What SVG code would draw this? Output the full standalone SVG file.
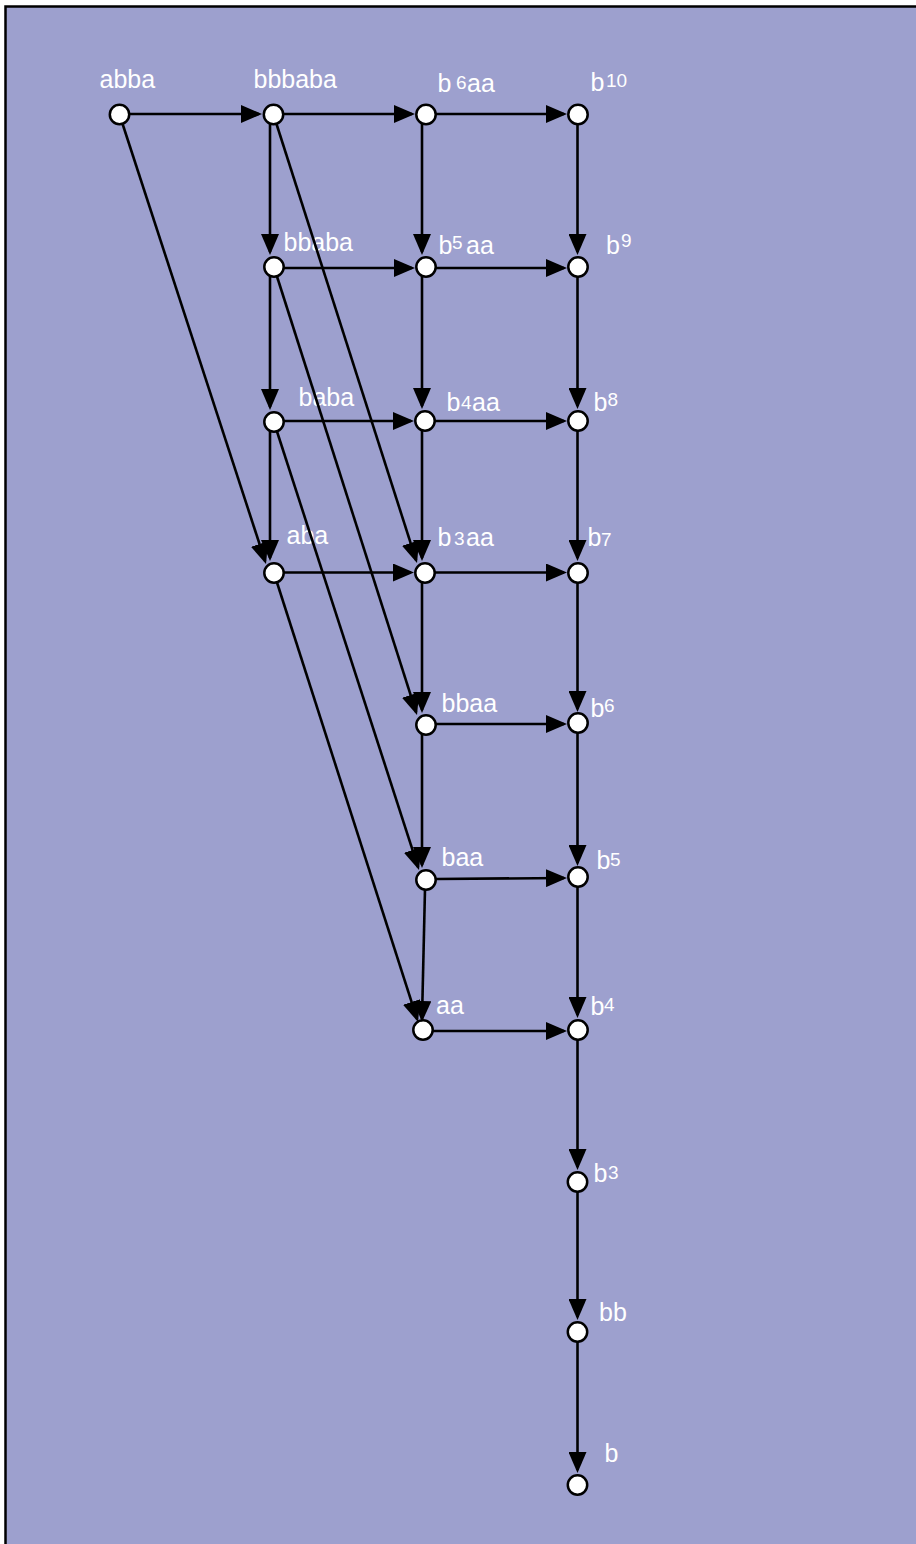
<svg xmlns="http://www.w3.org/2000/svg" width="916" height="1544" viewBox="0 0 916 1544">
<style>
.frame{fill:#9da0ce;stroke:#000;stroke-width:2.5}
.node circle{fill:#fff;stroke:#000;stroke-width:2.5}
.node text{fill:#fff;font-family:"Liberation Sans",Arial,Helvetica,sans-serif;font-size:25px}
.node text .sup{font-size:19px}
#edges line{stroke:#000;stroke-width:2.6;fill:none;marker-end:url(#arr)}
</style>
<defs>
<marker id="arr" markerUnits="userSpaceOnUse" markerWidth="21" markerHeight="18" viewBox="0 0 21 18" refX="18" refY="9" orient="auto">
<path d="M0,0 L21,9 L0,18 z" fill="#000"/>
</marker>
</defs>
<rect x="0" y="0" width="916" height="1544" fill="#fff"/>
<rect class="frame" x="5.5" y="6.5" width="1000" height="2000"/>

<g id="n-abba" class="node"><text x="99.5" y="88">abba</text><circle cx="119.5" cy="114.5" r="9.7"/></g>
<g id="n-bbbaba" class="node"><text x="253.5" y="88">bbbaba</text><circle cx="273.5" cy="114.5" r="9.7"/></g>
<g id="n-b6aa" class="node"><text y="92" font-size="24"><tspan x="437.5">b</tspan><tspan class="sup" x="456" y="88.6">6</tspan><tspan x="467" y="92">aa</tspan></text><circle cx="426" cy="114.5" r="9.7"/></g>
<g id="n-b10" class="node"><text y="91" font-size="24"><tspan x="590.5">b</tspan><tspan class="sup" x="606" y="86.6">10</tspan></text><circle cx="578" cy="114.5" r="9.7"/></g>

<g id="n-bbaba" class="node"><text x="283.5" y="251">bbaba</text><circle cx="274" cy="267" r="9.7"/></g>
<g id="n-b5aa" class="node"><text y="254"><tspan x="438.5">b</tspan><tspan class="sup" x="452" y="248.6">5</tspan><tspan x="466" y="254">aa</tspan></text><circle cx="426" cy="267" r="9.7"/></g>
<g id="n-b9" class="node"><text y="254"><tspan x="606">b</tspan><tspan class="sup" x="621" y="246.6">9</tspan></text><circle cx="578" cy="267" r="9.7"/></g>

<g id="n-baba" class="node"><text x="298.5" y="406" font-size="26">baba</text><circle cx="274" cy="422" r="9.7"/></g>
<g id="n-b4aa" class="node"><text y="411"><tspan x="446.5">b</tspan><tspan class="sup" x="461" y="408.6">4</tspan><tspan x="472" y="411">aa</tspan></text><circle cx="425" cy="421" r="9.7"/></g>
<g id="n-b8" class="node"><text y="411"><tspan x="593.5">b</tspan><tspan class="sup" x="607.5" y="405.6">8</tspan></text><circle cx="578" cy="421" r="9.7"/></g>

<g id="n-aba" class="node"><text x="286.5" y="544">aba</text><circle cx="274" cy="573" r="9.7"/></g>
<g id="n-b3aa" class="node"><text y="546"><tspan x="437.5">b</tspan><tspan class="sup" x="454" y="544.6">3</tspan><tspan x="466" y="546">aa</tspan></text><circle cx="425" cy="573" r="9.7"/></g>
<g id="n-b7" class="node"><text y="546" font-size="24"><tspan x="587.5">b</tspan><tspan class="sup" x="601" y="545.6">7</tspan></text><circle cx="578" cy="573" r="9.7"/></g>

<g id="n-bbaa" class="node"><text x="441.5" y="712">bbaa</text><circle cx="426" cy="725" r="9.7"/></g>
<g id="n-b6" class="node"><text y="717" font-size="24"><tspan x="590.5">b</tspan><tspan class="sup" x="604" y="711.6">6</tspan></text><circle cx="578" cy="723" r="9.7"/></g>

<g id="n-baa" class="node"><text x="441.5" y="866">baa</text><circle cx="426" cy="880" r="9.7"/></g>
<g id="n-b5" class="node"><text y="869" font-size="24"><tspan x="596.5">b</tspan><tspan class="sup" x="610" y="865.6">5</tspan></text><circle cx="578" cy="877" r="9.7"/></g>

<g id="n-aa" class="node"><text x="436" y="1014" font-size="24">aa</text><circle cx="423" cy="1030" r="9.7"/></g>
<g id="n-b4" class="node"><text y="1015" font-size="24"><tspan x="590.5">b</tspan><tspan class="sup" x="604" y="1010.6">4</tspan></text><circle cx="578" cy="1030" r="9.7"/></g>

<g id="n-b3" class="node"><text y="1182"><tspan x="593.5">b</tspan><tspan class="sup" x="608" y="1178.6">3</tspan></text><circle cx="577.5" cy="1182" r="9.7"/></g>
<g id="n-bb" class="node"><text x="599" y="1321" font-size="18">bb</text><circle cx="577.5" cy="1332" r="9.7"/></g>
<g id="n-b" class="node"><text x="604.5" y="1462">b</text><circle cx="577.5" cy="1485" r="9.7"/></g>

<g id="edges">
<line x1="129.5" y1="114" x2="259" y2="114"/>
<line x1="283.5" y1="114" x2="412" y2="114"/>
<line x1="436" y1="114" x2="564" y2="114"/>
<line x1="284" y1="268" x2="412" y2="268"/>
<line x1="436" y1="268" x2="564" y2="268"/>
<line x1="284" y1="421" x2="411" y2="421"/>
<line x1="435" y1="421" x2="564" y2="421"/>
<line x1="284" y1="572.5" x2="411" y2="572.5"/>
<line x1="435" y1="572.5" x2="564" y2="572.5"/>
<line x1="436" y1="724" x2="564" y2="724"/>
<line x1="436" y1="879" x2="564" y2="878"/>
<line x1="433" y1="1031" x2="564" y2="1031"/>

<line x1="270" y1="123.5" x2="270" y2="252"/>
<line x1="270" y1="276" x2="270" y2="407"/>
<line x1="270" y1="431" x2="270" y2="558"/>

<line x1="422" y1="123.5" x2="422" y2="252"/>
<line x1="422" y1="276" x2="422" y2="406"/>
<line x1="422" y1="430" x2="422" y2="558"/>
<line x1="422" y1="582" x2="422" y2="710"/>
<line x1="422" y1="734" x2="422" y2="865"/>
<line x1="425" y1="889" x2="422" y2="1019"/>

<line x1="577.5" y1="124" x2="577.5" y2="252"/>
<line x1="577.5" y1="277" x2="577.5" y2="406"/>
<line x1="577.5" y1="431" x2="577.5" y2="558"/>
<line x1="577.5" y1="583" x2="577.5" y2="709"/>
<line x1="577.5" y1="733" x2="577.5" y2="863"/>
<line x1="577.5" y1="887" x2="577.5" y2="1015"/>
<line x1="577.5" y1="1040" x2="577.5" y2="1167"/>
<line x1="577.5" y1="1192" x2="577.5" y2="1317"/>
<line x1="577.5" y1="1342" x2="577.5" y2="1470"/>

<line x1="122.6" y1="124" x2="265.1" y2="561.1"/>
<line x1="276.5" y1="124" x2="416.1" y2="560.1"/>
<line x1="277" y1="276.5" x2="416.1" y2="712.1"/>
<line x1="277" y1="431.5" x2="418.1" y2="867.1"/>
<line x1="277" y1="582.5" x2="417.1" y2="1019.1"/>
</g>
</svg>
